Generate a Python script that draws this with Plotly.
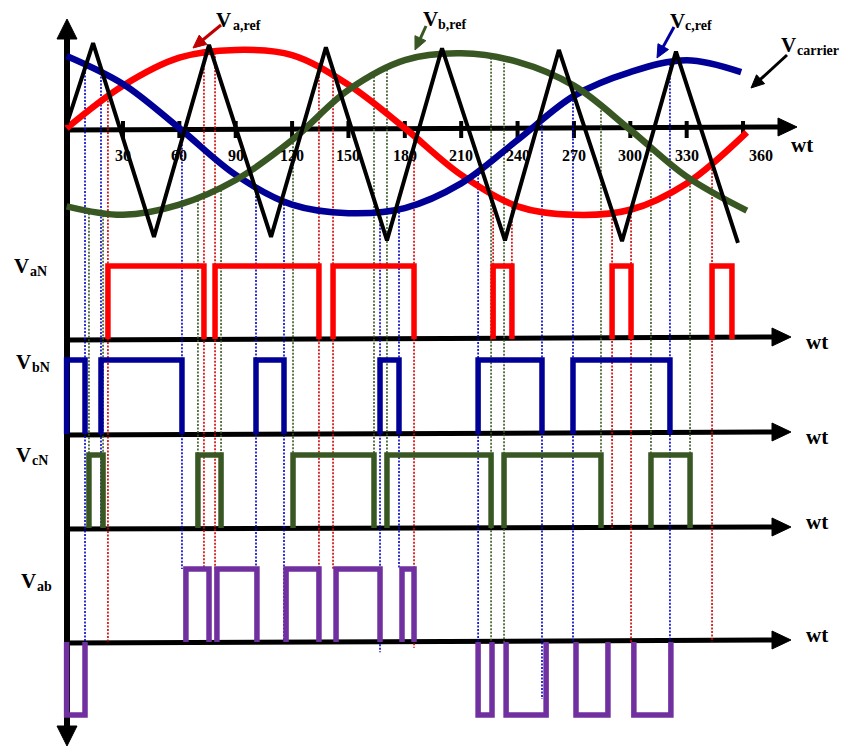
import numpy as np
import plotly.graph_objects as go

# ---------------- data (angles in degrees, amplitudes normalised) ----------------
wt_ticks = [30, 60, 90, 120, 150, 180, 210, 240, 270, 300, 330, 360]
tick_labels = [str(t) for t in wt_ticks]

va_ref_wt = [0, 30, 60, 90, 120, 150, 180, 210, 240, 270, 300, 330, 362]
va_ref = [0.01, 0.51, 0.84, 0.93, 0.87, 0.52, 0.01, -0.54, -0.91, -1.01, -0.95, -0.64, -0.04]
vb_ref_wt = [0, 30, 60, 90, 120, 150, 180, 210, 240, 270, 300, 330, 359]
vb_ref = [0.86, 0.53, 0.01, -0.54, -0.89, -0.99, -0.93, -0.64, -0.13, 0.39, 0.67, 0.81, 0.67]
vc_ref_wt = [0, 30, 60, 90, 120, 150, 180, 210, 240, 270, 300, 330, 362]
vc_ref = [-0.91, -1.01, -0.89, -0.60, -0.13, 0.46, 0.81, 0.89, 0.79, 0.51, -0.01, -0.56, -0.96]
carrier_wt = [0, 14.1, 46.5, 75.8, 108.8, 138.0, 170.5, 199.8, 233.3, 262.0, 295.6, 324.3, 357.3]
carrier = [0.05, 1.01, -1.27, 0.99, -1.27, 0.96, -1.31, 0.95, -1.31, 0.93, -1.32, 0.91, -1.34]

van_on = [22.0, 79.0, 141.8, 227.0, 290.3, 343.5]
van_off = [73.1, 134.3, 184.9, 237.0, 300.4, 354.1]
vbn_on = [0.0, 18.3, 100.8, 166.8, 219.0, 269.5]
vbn_off = [9.8, 61.4, 115.7, 176.9, 253.0, 321.1]
vcn_on = [11.9, 69.9, 120.5, 170.5, 232.8, 311.0]
vcn_off = [19.4, 82.2, 163.6, 225.9, 284.4, 331.8]
vab_pos_on = [63.5, 80.0, 116.8, 143.4, 178.5]
vab_pos_off = [75.8, 101.3, 134.3, 166.8, 184.9]
vab_neg_on = [0.0, 219.0, 233.9, 271.1, 301.9]
vab_neg_off = [9.8, 226.4, 255.2, 288.1, 321.6]

# where each switching guide line ends: (panel, level)
va_guide_end = [("ab", 0), ("ab", 1), ("ab", 1), ("ab", 1), ("ab", 1), ("ab", -0.08),
                ("a", 1), ("a", 1), ("c", 0), ("ab", 0), ("ab", 0), None]
vb_guide_end = [None, ("ab", 0), ("c", 0), ("ab", 1), ("ab", 0), ("ab", 0),
                ("ab", -0.14), ("ab", 1), ("ab", 0), ("ab", -0.78), ("ab", 0), ("ab", 0)]
vc_guide_end = [("c", 0)] * 7 + [("ab", 0), ("ab", 0)] + [("c", 0)] * 3

# labels: main letter + subscript
label_subs = ["a,ref", "b,ref", "c,ref", "carrier", "aN", "bN", "cN", "ab"]

# ---------------- layout geometry (pixels) ----------------
W, H = 845, 747
X0, PXD = 66.6, 1.879           # pixel of wt=0, pixels per degree
PANELS = {"top": (129, 85), "a": (339, 73), "b": (434, 74), "c": (528, 73), "ab": (642, 73)}
AXN = {"top": "y", "a": "y2", "b": "y3", "c": "y4", "ab": "y5"}
# (V left, V baseline, sub left, sub baseline)
LABEL_POS = [(215, 27, 232, 30), (422, 26, 437, 29), (669, 28, 684, 30), (780, 52, 796, 55),
             (13, 273, 29, 276), (15, 369, 31, 372), (15, 462, 31, 465), (20, 588, 36, 591)]

RED, BLUE, GREEN, PURPLE = "#FF0000", "#000096", "#385723", "#7030A0"
DRED, DBLUE, DGREEN = "#D00000", "#0000C8", "#385723"
SERIF = "Liberation Serif"


def px(x):
    return x / W


def py(p):
    return 1 - p / H


def to_top(panel, level):
    b, u = PANELS[panel]
    p = b - u * level
    bt, ut = PANELS["top"]
    return (bt - p) / ut


def pulses(on, off, level):
    xs, ys = [], []
    for a, b in zip(on, off):
        xs += [a, a, b, b, None]
        ys += [0, level, level, 0, None]
    return xs, ys


fig = go.Figure()

# guide (dotted) lines
for on, off, rw, rv, ends, col in [
    (van_on, van_off, va_ref_wt, va_ref, va_guide_end, DRED),
    (vbn_on, vbn_off, vb_ref_wt, vb_ref, vb_guide_end, DBLUE),
    (vcn_on, vcn_off, vc_ref_wt, vc_ref, vc_guide_end, DGREEN),
]:
    edges = sorted(on + off)
    xs, ys = [], []
    for e, end in zip(edges, ends):
        if end is None:
            continue
        xs += [e, e, None]
        ys += [float(np.interp(e, rw, rv)), to_top(*end), None]
    fig.add_trace(go.Scatter(x=xs, y=ys, mode="lines", yaxis="y",
                             line=dict(color=col, width=1.6, dash="2px,1.5px"),
                             hoverinfo="skip"))

# references and carrier
for wts, vals, col in [(va_ref_wt, va_ref, RED), (vb_ref_wt, vb_ref, BLUE), (vc_ref_wt, vc_ref, GREEN)]:
    fig.add_trace(go.Scatter(x=wts, y=vals, mode="lines", yaxis="y",
                             line=dict(color=col, width=6.5, shape="spline", smoothing=1.0)))
fig.add_trace(go.Scatter(x=carrier_wt, y=carrier, mode="lines", yaxis="y",
                         line=dict(color="black", width=4)))

# switching functions
for on, off, panel, col in [(van_on, van_off, "a", RED), (vbn_on, vbn_off, "b", BLUE),
                            (vcn_on, vcn_off, "c", GREEN)]:
    xs, ys = pulses(on, off, 1)
    fig.add_trace(go.Scatter(x=xs, y=ys, mode="lines", yaxis=AXN[panel],
                             line=dict(color=col, width=5.5)))
xs, ys = pulses(vab_pos_on, vab_pos_off, 1)
xn, yn = pulses(vab_neg_on, vab_neg_off, -1)
fig.add_trace(go.Scatter(x=xs + xn, y=ys + yn, mode="lines", yaxis="y5",
                         line=dict(color=PURPLE, width=5.5)))

shapes = []
# vertical axis
shapes.append(dict(type="line", xref="paper", yref="paper", x0=px(67), x1=px(67),
                   y0=py(34), y1=py(730), line=dict(color="black", width=6), layer="below"))


def poly(pts, col, layer="below"):
    path = "M " + " L ".join(f"{px(a):.5f},{py(b):.5f}" for a, b in pts) + " Z"
    return dict(type="path", xref="paper", yref="paper", path=path,
                fillcolor=col, line=dict(color=col, width=1), layer=layer)


def tri(tx, ty, d, ln, hw):
    if d == "up":
        pts = [(tx, ty), (tx - hw, ty + ln), (tx + hw, ty + ln)]
    elif d == "down":
        pts = [(tx, ty), (tx - hw, ty - ln), (tx + hw, ty - ln)]
    else:
        pts = [(tx, ty), (tx - ln, ty - hw), (tx - ln, ty + hw)]
    return poly(pts, "black")


shapes.append(tri(67, 19, "up", 20, 10))
shapes.append(tri(67, 746, "down", 20, 10))
for pl, pr, tip in [(130, 127, 797), (340, 337, 791), (435, 432, 791), (529, 527, 791), (643, 640, 791)]:
    shapes.append(dict(type="line", xref="paper", yref="paper", x0=px(64), x1=px(tip - 12),
                       y0=py(pl), y1=py(pr), line=dict(color="black", width=5), layer="below"))
    shapes.append(tri(tip, pr, "right", 19, 9))
for t in wt_ticks:
    shapes.append(dict(type="line", xref="x", yref="paper", x0=t, x1=t, y0=py(121), y1=py(138),
                       line=dict(color="black", width=4), layer="below"))

# label pointer arrows: (tail x, tail y, head x, head y, colour)
for tx, ty, hx, hy, col in [(221, 25, 193, 48, "#C00000"), (426, 26, 415, 50, GREEN),
                            (674, 27, 657, 58, "#0000A0"), (787, 55, 751, 88, "black")]:
    dx, dy = hx - tx, hy - ty
    L = (dx * dx + dy * dy) ** 0.5
    ux, uy = dx / L, dy / L
    ln, hw = 13, 6
    bx, by = hx - ux * ln, hy - uy * ln
    shapes.append(dict(type="line", xref="paper", yref="paper", x0=px(tx), y0=py(ty),
                       x1=px(bx + ux * 2), y1=py(by + uy * 2), line=dict(color=col, width=3),
                       layer="above"))
    shapes.append(poly([(hx, hy), (bx - uy * hw, by + ux * hw), (bx + uy * hw, by - ux * hw)],
                       col, layer="above"))


def font(size):
    return dict(family=SERIF, size=size, color="black", weight="bold")


ann = []
for t, lab in zip(wt_ticks, tick_labels):
    ann.append(dict(x=px(X0 + PXD * t + (18 if t == 360 else 0)), xref="paper", y=py(156),
                    yref="paper", text=lab, showarrow=False,
                    xanchor="center", yanchor="middle", font=font(16)))
for x, p in [(802, 145), (817, 342), (817, 437), (817, 522), (817, 635)]:
    ann.append(dict(x=px(x), xref="paper", y=py(p), yref="paper", text="wt", showarrow=False,
                    xanchor="center", yanchor="middle", font=font(21)))
for sub, (vx, vb, sx, sb) in zip(label_subs, LABEL_POS):
    ann.append(dict(x=px(vx), xref="paper", y=py(vb - 7), yref="paper", text="V",
                    showarrow=False, xanchor="left", yanchor="middle", font=font(21),
                    borderpad=0))
    ann.append(dict(x=px(sx), xref="paper", y=py(sb - 4.5), yref="paper", text=sub,
                    showarrow=False, xanchor="left", yanchor="middle", font=font(14),
                    borderpad=0))

layout = dict(
    width=W, height=H, margin=dict(l=0, r=0, t=0, b=0),
    paper_bgcolor="white", plot_bgcolor="white", showlegend=False,
    xaxis=dict(range=[-X0 / PXD, (W - X0) / PXD], visible=False, domain=[0, 1]),
    shapes=shapes, annotations=ann,
)
for name, key in AXN.items():
    b, u = PANELS[name]
    ax = dict(range=[(b - H) / u, b / u], visible=False, domain=[0, 1])
    lk = "yaxis" if key == "y" else "yaxis" + key[1:]
    if key != "y":
        ax["overlaying"] = "y"
    layout[lk] = ax
fig.update_layout(**layout)
fig.write_html("out.html")
